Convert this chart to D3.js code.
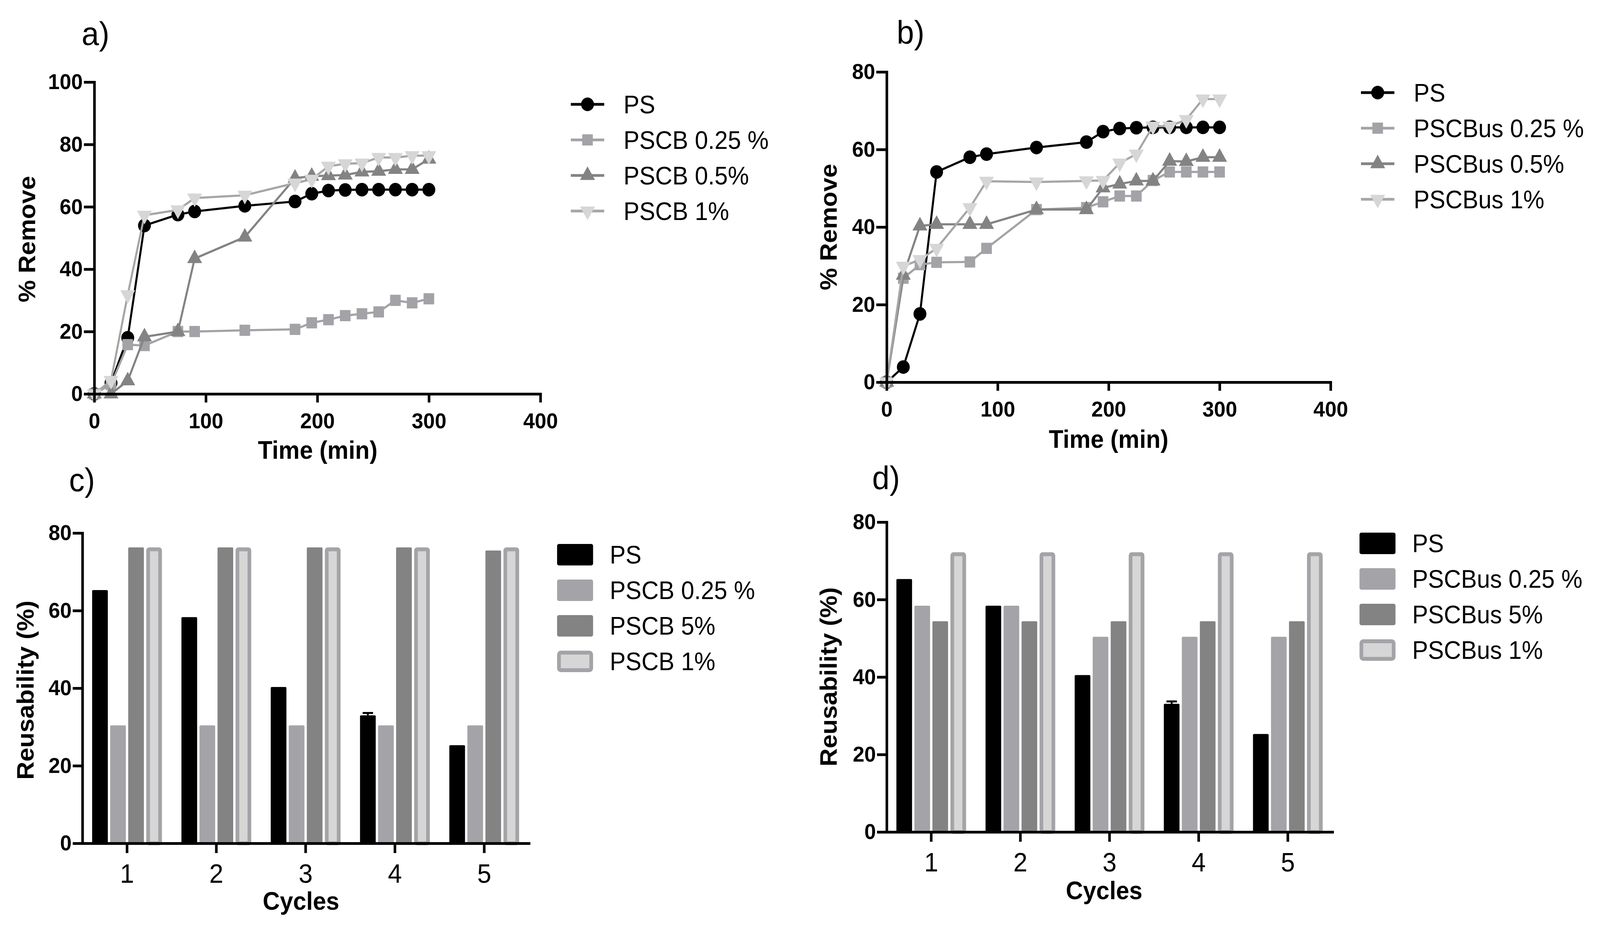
<!DOCTYPE html>
<html>
<head>
<meta charset="utf-8">
<script src="https://cdn.jsdelivr.net/npm/d3@7"></script>
<style>
  html, body { margin: 0; padding: 0; background: #fff; overflow: hidden; }
  svg { display: block; width: 100vw; height: 100vh; }
</style>
</head>
<body>
<div id="chart"></div>
<script>
const W = 4311, H = 2385

// ---- data ----
const TIME = [0, 15, 30, 45, 75, 90, 135, 180, 195, 210, 225, 240, 255, 270, 285, 300]

const A_PS      = [0, 3.5, 18, 54, 57.5, 58.5, 60.3, 61.7, 64.2, 65.2, 65.4, 65.5, 65.5, 65.5, 65.5, 65.5]
const A_PSCB025 = [0, 3, 15.8, 15.5, 20, 20, 20.4, 20.7, 22.8, 23.8, 25.1, 25.7, 26.3, 30, 29.2, 30.5]
const A_PSCB05  = [0, 0, 4.2, 18.3, 20, 43.4, 50.3, 69.2, 69.8, 70, 70.2, 71.2, 71.4, 72, 72, 75.3]
const A_PSCB1   = [0, 4.3, 31.8, 57.3, 59, 62.8, 63.7, 67.6, 68.8, 73, 73.8, 74, 75.8, 75.8, 76.4, 76.4]

const B_PS       = [0, 3.9, 17.6, 54.2, 58, 58.8, 60.5, 61.9, 64.6, 65.4, 65.6, 65.7, 65.7, 65.7, 65.7, 65.7]
const B_PSCB025  = [0, 26.8, 30.3, 30.9, 31, 34.5, 44.5, 45, 46.5, 48, 48, 52, 54.2, 54.2, 54.2, 54.2]
const B_PSCB05   = [0, 27.6, 40.3, 40.7, 40.7, 40.7, 44.5, 44.5, 50.1, 51.1, 51.9, 51.9, 57, 56.9, 58, 58]
const B_PSCB1    = [0, 29.9, 31.6, 34.5, 45, 51.8, 51.6, 51.9, 52, 56.5, 58.8, 66, 66, 67.7, 73, 73]

const CYCLES = ['1', '2', '3', '4', '5']
const C_PS      = [65.3, 58.3, 40.3, 33, 25.3]
const C_PS_ERR  = [0, 0, 0, 0.6, 0]
const C_PSCB025 = [30.4, 30.4, 30.4, 30.4, 30.4]
const C_PSCB5   = [76.3, 76.3, 76.3, 76.3, 75.5]
const C_PSCB1   = [76.3, 76.3, 76.3, 76.3, 76.3]

const D_PS      = [65.3, 58.4, 40.5, 33.1, 25.3]
const D_PS_ERR  = [0, 0, 0, 0.6, 0]
const D_PSCB025 = [58.4, 58.4, 50.4, 50.4, 50.4]
const D_PSCB5   = [54.4, 54.4, 54.4, 54.4, 54.4]
const D_PSCB1   = [72.2, 72.2, 72.2, 72.2, 72.2]

const LINE_X_TICKS = [0, 100, 200, 300, 400]
const A_Y_TICKS = [0, 20, 40, 60, 80, 100]
const BCD_Y_TICKS = [0, 20, 40, 60, 80]

const NAMES_A = ['PS', 'PSCB 0.25 %', 'PSCB 0.5%', 'PSCB 1%']
const NAMES_B = ['PS', 'PSCBus 0.25 %', 'PSCBus 0.5%', 'PSCBus 1%']
const NAMES_C = ['PS', 'PSCB 0.25 %', 'PSCB 5%', 'PSCB 1%']
const NAMES_D = ['PS', 'PSCBus 0.25 %', 'PSCBus 5%', 'PSCBus 1%']

// ---- styles ----
const FONT = "'Liberation Sans', Arial, Helvetica, sans-serif"
const AXIS_W = 7
const LINE_STYLE = [
  { line: '#000000', fill: '#000000', shape: 'circle' },
  { line: '#a3a3a7', fill: '#a3a3a7', shape: 'square' },
  { line: '#838383', fill: '#838383', shape: 'up' },
  { line: '#a6a6a6', fill: '#d6d6d6', shape: 'down' }
]
const BAR_STYLE = [
  { fill: '#000000', stroke: null },
  { fill: '#a4a4a8', stroke: null },
  { fill: '#838383', stroke: null },
  { fill: '#d6d6d6', stroke: '#a4a4a8' }
]

// laid out in a 4311x2385 space, stretched to fill the window
const svg = d3.select('#chart').append('svg')
  .attr('viewBox', `0 0 ${W} ${H}`)
  .attr('preserveAspectRatio', 'none')

svg.append('rect').attr('width', W).attr('height', H).attr('fill', 'white')

function marker(shape) {
  if (shape === 'circle') return d3.symbol().type(d3.symbolCircle).size(950)()
  if (shape === 'square') return d3.symbol().type(d3.symbolSquare).size(820)()
  return d3.symbol().type(d3.symbolTriangle).size(700)()
}

function styleAxis(sel, fontSize, bold) {
  sel.select('.domain').attr('stroke', '#000').attr('stroke-width', AXIS_W).attr('stroke-linecap', 'square')
  sel.selectAll('.tick line').attr('stroke', '#000').attr('stroke-width', AXIS_W)
  sel.selectAll('.tick text')
    .attr('fill', '#000')
    .style('font-family', FONT)
    .style('font-size', fontSize + 'px')
    .style('font-weight', bold ? 'bold' : 'normal')
}

function panelLabel(txt, x, y) {
  svg.append('text')
    .attr('x', x).attr('y', y)
    .style('font-family', FONT).style('font-size', '84px')
    .text(txt)
}

function axisTitle(txt, x, y, rotate) {
  svg.append('text')
    .attr('transform', `translate(${x},${y})` + (rotate ? ' rotate(-90)' : ''))
    .attr('text-anchor', 'middle')
    .style('font-family', FONT).style('font-size', '64px').style('font-weight', 'bold')
    .text(txt)
}

function linePanel(p, seriesVals, names) {
  const x = d3.scaleLinear().domain([0, 400]).range([p.x0, p.x1])
  const y = d3.scaleLinear().domain([0, p.ymax]).range([p.y0, p.y1])
  const g = svg.append('g')

  const line = d3.line()
    .x((d, i) => x(TIME[i]))
    .y(d => y(d))

  seriesVals.forEach((vals, s) => {
    const st = LINE_STYLE[s]
    const sg = g.append('g')
    sg.append('path')
      .datum(vals)
      .attr('d', line)
      .attr('fill', 'none')
      .attr('stroke', st.line)
      .attr('stroke-width', 5.5)
      .attr('stroke-linejoin', 'round')
    sg.selectAll('path.pt')
      .data(vals)
      .enter()
      .append('path')
      .attr('class', 'pt')
      .attr('d', marker(st.shape))
      .attr('transform', (d, i) => `translate(${x(TIME[i])},${y(d)})` + (st.shape === 'down' ? ' rotate(180)' : ''))
      .attr('fill', st.fill)
  })

  const ax = svg.append('g')
    .attr('transform', `translate(0,${p.y0})`)
    .call(d3.axisBottom(x).tickValues(LINE_X_TICKS).tickSize(22).tickSizeOuter(0).tickPadding(26))
  styleAxis(ax, 56, true)
  const ay = svg.append('g')
    .attr('transform', `translate(${p.x0},0)`)
    .call(d3.axisLeft(y).tickValues(p.yticks).tickSize(28).tickSizeOuter(0).tickPadding(3))
  styleAxis(ay, 56, true)

  // legend
  names.forEach((name, s) => {
    const st = LINE_STYLE[s]
    const cy = p.legY + s * p.legStep
    const lg = svg.append('g')
    lg.append('line')
      .attr('x1', p.legX).attr('x2', p.legX + 90)
      .attr('y1', cy).attr('y2', cy)
      .attr('stroke', st.line).attr('stroke-width', 7)
    lg.append('path')
      .attr('d', marker(st.shape))
      .attr('transform', `translate(${p.legX + 45},${cy})` + (st.shape === 'down' ? ' rotate(180)' : ''))
      .attr('fill', st.fill)
    lg.append('text')
      .attr('x', p.legX + 142).attr('y', cy + 23)
      .style('font-family', FONT).style('font-size', '64px')
      .text(name)
  })
}

function barPanel(p, seriesVals, errVals, names) {
  const x = d3.scaleBand().domain(CYCLES).range([p.x0, p.x1]).padding(0)
  const xi = d3.scaleBand().domain(d3.range(4)).range([0, x.bandwidth()]).paddingInner(0.13).paddingOuter(0.54)
  const y = d3.scaleLinear().domain([0, 80]).range([p.y0, p.y1])
  const g = svg.append('g')
  const SW = 10

  seriesVals.forEach((vals, s) => {
    const st = BAR_STYLE[s]
    g.selectAll(null)
      .data(vals)
      .enter()
      .append('rect')
      .attr('x', (d, i) => x(CYCLES[i]) + xi(s) + (st.stroke ? SW / 2 : 0))
      .attr('width', xi.bandwidth() - (st.stroke ? SW : 0))
      .attr('y', d => y(d) + (st.stroke ? SW / 2 : 0))
      .attr('height', d => y(0) - y(d) - (st.stroke ? SW / 2 : 0))
      .attr('rx', 3)
      .attr('fill', st.fill)
      .attr('stroke', st.stroke || 'none')
      .attr('stroke-width', st.stroke ? SW : 0)
  })

  // error bars on PS
  errVals.forEach((e, i) => {
    if (!e) return
    const cx = x(CYCLES[i]) + xi(0) + xi.bandwidth() / 2
    const v = seriesVals[0][i]
    g.append('line')
      .attr('x1', cx).attr('x2', cx)
      .attr('y1', y(v)).attr('y2', y(v + e))
      .attr('stroke', '#000').attr('stroke-width', 5)
    g.append('line')
      .attr('x1', cx - 14).attr('x2', cx + 14)
      .attr('y1', y(v + e)).attr('y2', y(v + e))
      .attr('stroke', '#000').attr('stroke-width', 5)
  })

  const ax = svg.append('g')
    .attr('transform', `translate(0,${p.y0})`)
    .call(d3.axisBottom(x).tickSize(25).tickSizeOuter(0).tickPadding(28))
  styleAxis(ax, 68, false)
  const ay = svg.append('g')
    .attr('transform', `translate(${p.x0},0)`)
    .call(d3.axisLeft(y).tickValues(BCD_Y_TICKS).tickSize(26).tickSizeOuter(0).tickPadding(3))
  styleAxis(ay, 56, true)

  names.forEach((name, s) => {
    const st = BAR_STYLE[s]
    const top = p.legY + s * p.legStep
    svg.append('rect')
      .attr('x', p.legX + (st.stroke ? 5 : 0)).attr('y', top + (st.stroke ? 5 : 0))
      .attr('width', 97 - (st.stroke ? 10 : 0)).attr('height', 55 - (st.stroke ? 10 : 0))
      .attr('rx', 5)
      .attr('fill', st.fill)
      .attr('stroke', st.stroke || 'none')
      .attr('stroke-width', st.stroke ? 10 : 0)
    svg.append('text')
      .attr('x', p.legX + 142).attr('y', top + 27 + 23)
      .style('font-family', FONT).style('font-size', '64px')
      .text(name)
  })
}

// ---- panel a ----
panelLabel('a)', 220, 115)
linePanel({ x0: 254, x1: 1456, y0: 1008, y1: 210, ymax: 100, yticks: A_Y_TICKS,
  legX: 1538, legY: 267, legStep: 91 }, [A_PS, A_PSCB025, A_PSCB05, A_PSCB1], NAMES_A)
axisTitle('% Remove', 95, 612, true)
axisTitle('Time (min)', 856, 1174, false)

// ---- panel b ----
panelLabel('b)', 2416, 112)
linePanel({ x0: 2389, x1: 3585, y0: 978, y1: 184, ymax: 80, yticks: BCD_Y_TICKS,
  legX: 3667, legY: 237, legStep: 91 }, [B_PS, B_PSCB025, B_PSCB05, B_PSCB1], NAMES_B)
axisTitle('% Remove', 2254, 581, true)
axisTitle('Time (min)', 2987, 1146, false)

// ---- panel c ----
panelLabel('c)', 186, 1257)
barPanel({ x0: 222, x1: 1425, y0: 2158, y1: 1364, legX: 1501, legY: 1392, legStep: 91 },
  [C_PS, C_PSCB025, C_PSCB5, C_PSCB1], C_PS_ERR, NAMES_C)
axisTitle('Reusability (%)', 90, 1766, true)
axisTitle('Cycles', 811, 2328, false)

// ---- panel d ----
panelLabel('d)', 2350, 1252)
barPanel({ x0: 2389, x1: 3590, y0: 2129, y1: 1336, legX: 3663, legY: 1363, legStep: 91 },
  [D_PS, D_PSCB025, D_PSCB5, D_PSCB1], D_PS_ERR, NAMES_D)
axisTitle('Reusability (%)', 2254, 1732, true)
axisTitle('Cycles', 2975, 2301, false)
</script>
</body>
</html>
